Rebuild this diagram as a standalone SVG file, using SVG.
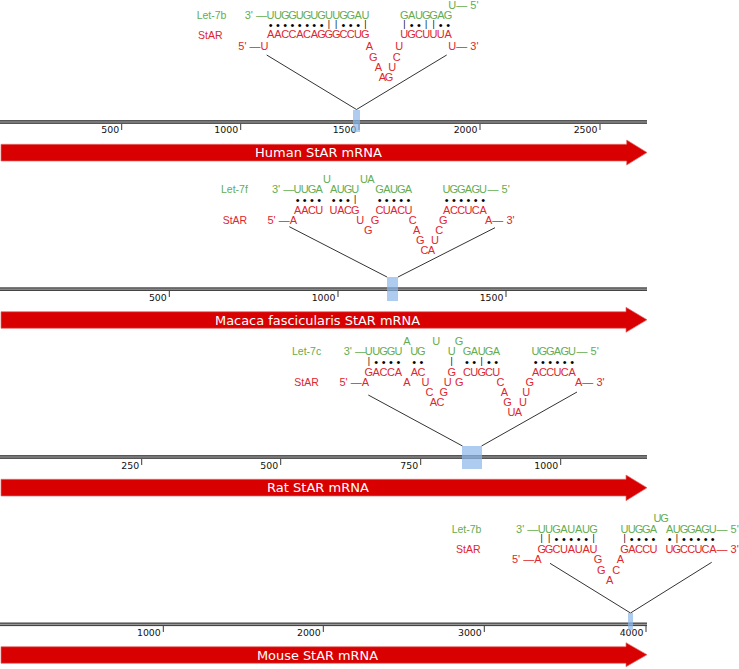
<svg xmlns="http://www.w3.org/2000/svg" width="739" height="669" viewBox="0 0 739 669">
<style>
text{font-family:"Liberation Sans",Arial,sans-serif;font-size:11px}
.g{fill:#64ac50}
.r{fill:#e0262c}
.m{text-anchor:middle}
.e{text-anchor:end}
.d{fill:#000;text-anchor:middle;font-size:11px}
.p{font-size:8.5px;fill:#000}
.lbl{font-size:10.5px}
.ax{font-family:"DejaVu Sans",Verdana,sans-serif;font-size:9.4px;fill:#111;text-anchor:end}
.tk{stroke:#222;stroke-width:0.9}
.bar{fill:#444}
.bin{stroke:#c8c8c8;stroke-width:0.8}
.hl{fill:#8ab6ea;opacity:0.7}
.arr{fill:#d80000;stroke:#e46a6a;stroke-width:0.7}
.at{font-family:"DejaVu Sans",Verdana,sans-serif;font-size:12.5px;fill:#fff}
.cn line{stroke:#333;stroke-width:1}
</style>

<g id="connectors" class="cn">
<line x1="266.7" y1="55" x2="356.5" y2="109.5"/>
<line x1="446.7" y1="55" x2="356.5" y2="109.5"/>
<line x1="289.3" y1="226.7" x2="387" y2="277"/>
<line x1="495" y1="227.7" x2="398" y2="277"/>
<line x1="368.3" y1="395" x2="462.5" y2="446"/>
<line x1="577" y1="392" x2="481.5" y2="446"/>
<line x1="550" y1="563.3" x2="630.5" y2="613"/>
<line x1="711.7" y1="562.3" x2="630.5" y2="613"/>
</g>

<!-- Panel 1: Human -->
<g id="human-duplex">
<text class="g lbl" x="196.7" y="19">Let-7b</text>
<text class="r lbl" x="198" y="38.5">StAR</text>
<text class="g" x="448.3" y="8.5">U— 5'</text>
<text class="g e" x="267" y="19">3' —</text>
<text class="g m" x="270.6 277.9 285.2 292.5 299.8 307.1 314.3 321.6 328.9 336.2 343.5 350.8 358.1 365.4" y="19">UUGGUGUGUUGGAU</text>
<text class="g m" x="404.3 411.6 418.9 426.2 433.5 440.8 448.1" y="19">GAUGGAG</text>
<text class="d" y="29"><tspan x="270.6 277.9 285.2 292.5 299.8 307.1 314.3 321.6">••••••••</tspan><tspan class="p" x="328.9 336.2" y="27.3">||</tspan><tspan x="343.5 350.8 358.1" y="29">•••</tspan><tspan class="p" x="365.4 404.3" y="27.3">||</tspan><tspan x="411.6 418.9" y="29">••</tspan><tspan class="p" x="426.2 433.5" y="27.3">||</tspan><tspan x="440.8 448.1" y="29">••</tspan></text>
<text class="r m" x="270.6 277.9 285.2 292.5 299.8 307.1 314.3 321.6 328.9 336.2 343.5 350.8 358.1 365.4" y="38">AACCACAGGGCCUG</text>
<text class="r m" x="404.3 411.6 418.9 426.2 433.5 440.8 448.1" y="38">UGCUUUA</text>
<text class="r e" x="268.5" y="50">5' —U</text>
<text class="r m" x="369.3 399.3" y="50">AU</text>
<text class="r" x="448.3" y="50">U— 3'</text>
<text class="r m" x="373.3 396.7" y="60.5">GC</text>
<text class="r m" x="378.3 392.3" y="70.5">AU</text>
<text class="r m" x="382.5 389" y="80.5">AG</text>
</g>
<g id="human-axis">
<rect class="bar" x="0" y="120.1" width="647" height="3.8"/>
<line class="bin" x1="0" y1="122" x2="647" y2="122"/>
<line class="tk" x1="121.7" y1="124" x2="121.7" y2="130"/>
<line class="tk" x1="240.7" y1="124" x2="240.7" y2="130"/>
<line class="tk" x1="359" y1="124" x2="359" y2="130"/>
<line class="tk" x1="480" y1="124" x2="480" y2="130"/>
<line class="tk" x1="600" y1="124" x2="600" y2="130"/>
<text class="ax" x="119.2" y="133.3">500</text>
<text class="ax" x="238.2" y="133.3">1000</text>
<text class="ax" x="356.5" y="133.3">1500</text>
<text class="ax" x="477.5" y="133.3">2000</text>
<text class="ax" x="597.5" y="133.3">2500</text>
<rect class="hl" x="353" y="110" width="7" height="22"/>
</g>
<g id="human-mrna">
<path class="arr" d="M1,144.3 H626.7 V140 L647,152.5 L626.7,165 V161 H1 Z"/>
<text class="at" x="255" y="157" textLength="127" lengthAdjust="spacingAndGlyphs">Human StAR mRNA</text>
</g>

<!-- Panel 2: Macaca -->
<g id="macaca-duplex">
<text class="g lbl" x="221" y="193">Let-7f</text>
<text class="r lbl" x="222.7" y="224">StAR</text>
<text class="g m" x="327 364 371" y="183">UUA</text>
<text class="g e" x="294.2" y="193">3' —</text>
<text class="g m" x="297.6 304.8 312 319.2" y="193">UUGA</text>
<text class="g m" x="333.6 340.8 348 355.2" y="193">AUGU</text>
<text class="g m" x="379.6 386.8 394 401.2 408.4" y="193">GAUGA</text>
<text class="g m" x="446.6 453.9 461.2 468.5 475.8 483.1" y="193">UGGAGU</text>
<text class="g" x="487.5" y="193">— 5'</text>
<text class="d" y="203.5"><tspan x="297.6 304.8 312 319.2 333.6 340.8 348">•••••••</tspan><tspan class="p" x="355.2" y="201.8">|</tspan><tspan x="379.6 386.8 394 401.2 408.4 446.6 453.9 461.2 468.5 475.8 483.1" y="203.5">•••••••••••</tspan></text>
<text class="r m" x="297.6 304.8 312 319.2" y="214">AACU</text>
<text class="r m" x="333.6 340.8 348 355.2" y="214">UACG</text>
<text class="r m" x="379.6 386.8 394 401.2 408.4" y="214">CUACU</text>
<text class="r m" x="446.6 453.9 461.2 468.5 475.8 483.1" y="214">ACCUCA</text>
<text class="r e" x="297" y="224">5' —A</text>
<text class="r m" x="360.3 375 412.7 443.3" y="224">UGCG</text>
<text class="r" x="485" y="224">A— 3'</text>
<text class="r m" x="368.3 416.7 439.3" y="234">GAC</text>
<text class="r m" x="420.3 435" y="244">GU</text>
<text class="r m" x="424.5 431.5" y="254">CA</text>
</g>
<g id="macaca-axis">
<rect class="bar" x="0" y="287.3" width="647" height="3.7"/>
<line class="bin" x1="0" y1="289.15" x2="647" y2="289.15"/>
<line class="tk" x1="169.3" y1="291" x2="169.3" y2="297"/>
<line class="tk" x1="338" y1="291" x2="338" y2="297"/>
<line class="tk" x1="506" y1="291" x2="506" y2="297"/>
<text class="ax" x="166.8" y="301">500</text>
<text class="ax" x="335.5" y="301">1000</text>
<text class="ax" x="503.5" y="301">1500</text>
<rect class="hl" x="387" y="277" width="11" height="24"/>
</g>
<g id="macaca-mrna">
<path class="arr" d="M1,311.7 H626 V307.3 L647,319.8 L626,332.3 V328.3 H1 Z"/>
<text class="at" x="215" y="325" textLength="205" lengthAdjust="spacingAndGlyphs">Macaca fascicularis StAR mRNA</text>
</g>

<!-- Panel 3: Rat -->
<g id="rat-duplex">
<text class="g lbl" x="292" y="355">Let-7c</text>
<text class="r lbl" x="294.3" y="386">StAR</text>
<text class="g m" x="407 436.3 459" y="344.5">AUG</text>
<text class="g e" x="366" y="355">3' —</text>
<text class="g m" x="368.8 376.2 383.6 391 398.4" y="355">UUGGU</text>
<text class="g m" x="414.3 421.4" y="355">UG</text>
<text class="g m" x="451.7" y="355">U</text>
<text class="g m" x="467 474.3 481.7 489 496.3" y="355">GAUGA</text>
<text class="g m" x="535.6 542.9 550.2 557.5 564.8 572.1" y="355">UGGAGU</text>
<text class="g" x="576.5" y="355">— 5'</text>
<text class="d" y="365.7"><tspan class="p" x="368.8" y="364">|</tspan><tspan x="376.2 383.6 391 398.4 414.3 421.4" y="365.7">••••••</tspan><tspan class="p" x="451.7" y="364">|</tspan><tspan x="467 474.3" y="365.7">••</tspan><tspan class="p" x="481.7" y="364">|</tspan><tspan x="489 496.3 535.6 542.9 550.2 557.5 564.8 572.1" y="365.7">••••••••</tspan></text>
<text class="r m" x="368.8 376.2 383.6 391 398.4" y="376">GACCA</text>
<text class="r m" x="414.3 421.4" y="376">AC</text>
<text class="r m" x="451.7" y="376">G</text>
<text class="r m" x="467 474.3 481.7 489 496.3" y="376">CUGCU</text>
<text class="r m" x="535.6 542.9 550.2 557.5 564.8 572.1" y="376">ACCUCA</text>
<text class="r e" x="369" y="386">5' —A</text>
<text class="r m" x="407 425.5 447.8 459.2 500.5 529.7" y="386">AUUGCG</text>
<text class="r" x="575" y="386">A— 3'</text>
<text class="r m" x="429.5 443.7 504.5 526.3" y="396">CGAU</text>
<text class="r m" x="433.5 440.5 507.5 523" y="406">ACGU</text>
<text class="r m" x="511.5 518.5" y="416">UA</text>
</g>
<g id="rat-axis">
<rect class="bar" x="0" y="455.1" width="647" height="3.8"/>
<line class="bin" x1="0" y1="457" x2="647" y2="457"/>
<line class="tk" x1="141.7" y1="459" x2="141.7" y2="465"/>
<line class="tk" x1="280.7" y1="459" x2="280.7" y2="465"/>
<line class="tk" x1="420.7" y1="459" x2="420.7" y2="465"/>
<line class="tk" x1="560.7" y1="459" x2="560.7" y2="465"/>
<text class="ax" x="139.2" y="469.3">250</text>
<text class="ax" x="278.2" y="469.3">500</text>
<text class="ax" x="418.2" y="469.3">750</text>
<text class="ax" x="558.2" y="469.3">1000</text>
<rect class="hl" x="462" y="446" width="20" height="23"/>
</g>
<g id="rat-mrna">
<path class="arr" d="M1,479.3 H626 V475 L647,487.8 L626,500.7 V496 H1 Z"/>
<text class="at" x="267" y="492.3" textLength="102" lengthAdjust="spacingAndGlyphs">Rat StAR mRNA</text>
</g>

<!-- Panel 4: Mouse -->
<g id="mouse-duplex">
<text class="g lbl" x="451.7" y="532.5">Let-7b</text>
<text class="r lbl" x="456" y="553">StAR</text>
<text class="g m" x="657.5 664.5" y="522">UG</text>
<text class="g e" x="538.3" y="532.5">3' —</text>
<text class="g m" x="541.7 549.1 556.5 563.9 571.3 578.7 586.1 593.5" y="532.5">UUGAUAUG</text>
<text class="g m" x="624.6 631.8 639 646.2 653.4" y="532.5">UUGGA</text>
<text class="g m" x="669.6 676.8 684 691.2 698.4 705.6 712.8" y="532.5">AUGGAGU</text>
<text class="g" x="716.5" y="532.5">— 5'</text>
<text class="d" y="542.5"><tspan class="p" x="541.7 549.1" y="540.8">||</tspan><tspan x="556.5 563.9 571.3 578.7 586.1" y="542.5">•••••</tspan><tspan class="p" x="593.5 624.6" y="540.8">||</tspan><tspan x="631.8 639 646.2 653.4 669.6" y="542.5">•••••</tspan><tspan class="p" x="676.8" y="540.8">|</tspan><tspan x="684 691.2 698.4 705.6 712.8" y="542.5">•••••</tspan></text>
<text class="r m" x="541.7 549.1 556.5 563.9 571.3 578.7 586.1 593.5" y="553">GGCUAUAU</text>
<text class="r m" x="624.6 631.8 639 646.2 653.4" y="553">GACCU</text>
<text class="r m" x="669.6 676.8 684 691.2 698.4 705.6 712.8" y="553">UGCCUCA</text>
<text class="r" x="716.5" y="553">— 3'</text>
<text class="r e" x="541.5" y="563">5' —A</text>
<text class="r m" x="598 620.3" y="563">GA</text>
<text class="r m" x="601.3 616.3" y="573.5">GC</text>
<text class="r m" x="609.7" y="583.5">A</text>
</g>
<g id="mouse-axis">
<rect class="bar" x="0" y="622.5" width="647" height="3.6"/>
<line class="bin" x1="0" y1="624.3" x2="647" y2="624.3"/>
<line class="tk" x1="163.3" y1="626" x2="163.3" y2="632"/>
<line class="tk" x1="323.3" y1="626" x2="323.3" y2="632"/>
<line class="tk" x1="484.3" y1="626" x2="484.3" y2="632"/>
<line class="tk" x1="646" y1="626" x2="646" y2="632"/>
<text class="ax" x="160.8" y="635.7">1000</text>
<text class="ax" x="320.8" y="635.7">2000</text>
<text class="ax" x="481.8" y="635.7">3000</text>
<text class="ax" x="643.5" y="635.7">4000</text>
<rect class="hl" x="628" y="613" width="5" height="17"/>
</g>
<g id="mouse-mrna">
<path class="arr" d="M1,646.7 H626 V642.7 L647,654.7 L626,666.7 V663.3 H1 Z"/>
<text class="at" x="257" y="660" textLength="121" lengthAdjust="spacingAndGlyphs">Mouse StAR mRNA</text>
</g>
</svg>
